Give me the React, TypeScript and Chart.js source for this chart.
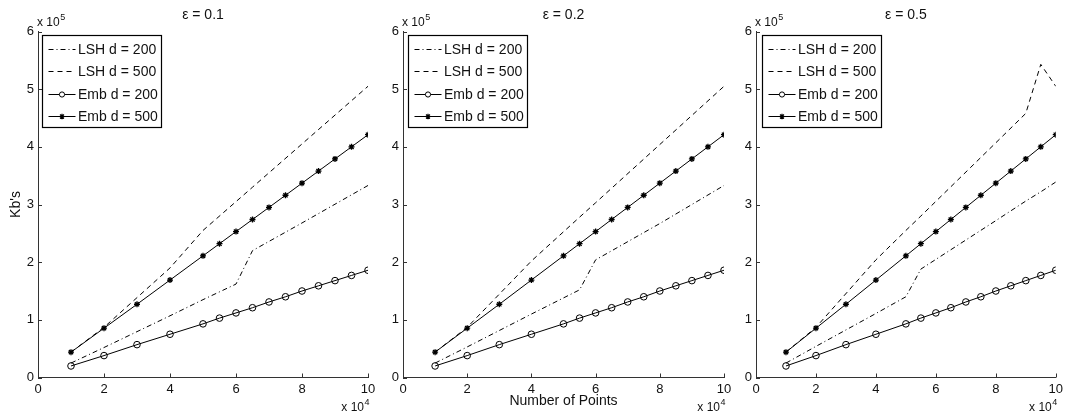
import React, { useEffect, useRef } from "react";
import { Chart, registerables } from "chart.js";

Chart.register(...registerables);

// ---------- data (x in units of 10^4 points, y in units of 10^5 Kb) ----------
const TITLES = ["ε = 0.1", "ε = 0.2", "ε = 0.5"];
const SERIES_LABELS = ["LSH d = 200", "LSH d = 500", "Emb d = 200", "Emb d = 500"];
const X_TICKS = [0, 2, 4, 6, 8, 10];
const Y_TICKS = [0, 1, 2, 3, 4, 5, 6];

const EMB_X = [1, 2, 3, 4, 5, 5.5, 6, 6.5, 7, 7.5, 8, 8.5, 9, 9.5, 10];
const EMB_200 = [0.2, 0.38, 0.57, 0.75, 0.93, 1.03, 1.12, 1.21, 1.31, 1.4, 1.5, 1.59, 1.68, 1.77, 1.86];
const EMB_500 = [0.44, 0.855, 1.27, 1.69, 2.11, 2.32, 2.53, 2.74, 2.95, 3.16, 3.37, 3.58, 3.79, 4.0, 4.21];

const LSH_X_01 = [1, 2, 4, 5, 6, 6.5, 8, 10];
const LSH200_01 = [0.25, 0.52, 1.07, 1.35, 1.62, 2.2, 2.68, 3.33];
const LSH500_01 = [0.44, 0.87, 1.9, 2.55, 3.05, 3.3, 4.05, 5.05];

const LSH_X_02 = [1, 2, 4, 5.5, 6, 8, 10];
const LSH200_02 = [0.25, 0.53, 1.1, 1.52, 2.04, 2.67, 3.33];
const LSH500_02 = [0.44, 0.87, 2.02, 2.78, 3.03, 4.04, 5.05];

const LSH_X_05 = [1, 2, 4, 5, 5.5, 8, 9, 9.5, 10];
const LSH200_05 = [0.25, 0.54, 1.11, 1.4, 1.88, 2.72, 3.06, 3.22, 3.39];
const LSH500_05 = [0.44, 0.87, 2.04, 2.55, 2.8, 4.07, 4.58, 5.43, 5.05];

const LSH_X = [LSH_X_01, LSH_X_02, LSH_X_05];
const LSH200 = [LSH200_01, LSH200_02, LSH200_05];
const LSH500 = [LSH500_01, LSH500_02, LSH500_05];

// ---------- layout / style ----------
const W = 1067;
const H = 414;
const TOP = 31.5;
const BOTTOM = 377.5;
const PANEL_LEFT = [38, 403, 756];
const PANEL_RIGHT = [368, 724, 1057];
const LEGEND_OFFSET = [3.5, 5, 6];
const Y_AXIS_W = 30;
const X_AXIS_H = 30;
const FONT = "'Liberation Sans', Arial, Helvetica, sans-serif";
const INK = "#111";
const AXIS = "#333";
const DASH_DOT = [5, 3, 1, 3];
const DASHED = [5, 4];

function pts(xs: number[], ys: number[]) {
  return xs.map((x, i) => ({ x, y: ys[i] }));
}

function drawStar(ctx: CanvasRenderingContext2D, x: number, y: number, r: number) {
  ctx.beginPath();
  ctx.moveTo(x - r, y);
  ctx.lineTo(x + r, y);
  ctx.moveTo(x, y - r);
  ctx.lineTo(x, y + r);
  const d = r * Math.SQRT1_2;
  ctx.moveTo(x - d, y - d);
  ctx.lineTo(x + d, y + d);
  ctx.moveTo(x - d, y + d);
  ctx.lineTo(x + d, y - d);
  ctx.stroke();
}

function drawPow(ctx: CanvasRenderingContext2D, base: string, exp: string, x: number, y: number, align: "left" | "right") {
  ctx.save();
  ctx.fillStyle = INK;
  ctx.textBaseline = "middle";
  ctx.font = `12px ${FONT}`;
  const bw = ctx.measureText(base).width;
  ctx.font = `9px ${FONT}`;
  const ew = ctx.measureText(exp).width;
  const start = align === "left" ? x : x - bw - ew - 0.5;
  ctx.textAlign = "left";
  ctx.font = `12px ${FONT}`;
  ctx.fillText(base, start, y);
  ctx.font = `9px ${FONT}`;
  ctx.fillText(exp, start + bw + 0.5, y - 5);
  ctx.restore();
}

const decorPlugin = {
  id: "decor",
  afterDraw(chart: any, _args: any, opts: any) {
    const ctx: CanvasRenderingContext2D = chart.ctx;
    const area = chart.chartArea;
    const xs = chart.scales.x;
    const ys = chart.scales.y;
    ctx.save();
    // inward tick marks
    ctx.strokeStyle = AXIS;
    ctx.lineWidth = 1;
    ctx.beginPath();
    X_TICKS.forEach((v) => {
      const px = Math.round(xs.getPixelForValue(v)) + 0.5;
      ctx.moveTo(px, area.bottom);
      ctx.lineTo(px, area.bottom - 4);
    });
    Y_TICKS.forEach((v) => {
      const py = Math.round(ys.getPixelForValue(v)) + 0.5;
      ctx.moveTo(area.left, py);
      ctx.lineTo(area.left + 4, py);
    });
    ctx.stroke();

    // title
    ctx.fillStyle = INK;
    ctx.font = `14px ${FONT}`;
    ctx.textAlign = "center";
    ctx.textBaseline = "middle";
    ctx.fillText(opts.title, (area.left + area.right) / 2, 15);

    // exponent labels
    drawPow(ctx, "x 10", "5", area.left - 1, 23, "left");
    drawPow(ctx, "x 10", "4", area.right + 1.5, 408, "right");

    // axis titles
    if (opts.yTitle) {
      ctx.save();
      ctx.translate(16.5, (area.top + area.bottom) / 2);
      ctx.rotate(-Math.PI / 2);
      ctx.font = `14px ${FONT}`;
      ctx.textAlign = "center";
      ctx.textBaseline = "middle";
      ctx.fillStyle = INK;
      ctx.fillText(opts.yTitle, 0, 0);
      ctx.restore();
    }
    if (opts.xTitle) {
      ctx.font = `14px ${FONT}`;
      ctx.textAlign = "center";
      ctx.textBaseline = "middle";
      ctx.fillText(opts.xTitle, (area.left + area.right) / 2, 401.5);
    }

    // legend
    const lx = Math.round(area.left + opts.legendOffset) + 0.5;
    const ly = 35.5;
    const lw = 119;
    const lh = 92;
    ctx.fillStyle = "#fff";
    ctx.fillRect(lx, ly, lw, lh);
    ctx.strokeStyle = "#000";
    ctx.lineWidth = 1.2;
    ctx.setLineDash([]);
    ctx.strokeRect(lx, ly, lw, lh);
    const rows = [13.5, 35.5, 58, 80];
    chart.data.datasets.forEach((ds: any, i: number) => {
      const y = Math.round(ly + rows[i]) + 0.5;
      ctx.strokeStyle = "#000";
      ctx.lineWidth = 1;
      ctx.setLineDash(ds.borderDash || []);
      ctx.beginPath();
      ctx.moveTo(lx + 6, y);
      ctx.lineTo(lx + 33, y);
      ctx.stroke();
      ctx.setLineDash([]);
      if (ds.pointStyle === "circle") {
        ctx.fillStyle = "#fff";
        ctx.beginPath();
        ctx.arc(lx + 19.5, y, 2.6, 0, Math.PI * 2);
        ctx.fill();
        ctx.stroke();
      } else if (ds.pointStyle === "star") {
        ctx.lineWidth = 1.2;
        drawStar(ctx, lx + 19.5, y, 2.8);
      }
      ctx.fillStyle = INK;
      ctx.font = `14px ${FONT}`;
      ctx.textAlign = "left";
      ctx.textBaseline = "middle";
      ctx.fillText(ds.label, lx + 35.5, y + 0.5);
    });
    ctx.restore();
  },
};

function makeConfig(i: number): any {
  const L = PANEL_LEFT[i];
  const R = PANEL_RIGHT[i];
  const tickFont = { family: FONT, size: 13 };
  return {
    type: "line",
    data: {
      datasets: [
        {
          label: SERIES_LABELS[0],
          data: pts(LSH_X[i], LSH200[i]),
          borderColor: "#000",
          borderWidth: 1,
          borderDash: DASH_DOT,
          pointRadius: 0,
          fill: false,
          tension: 0,
        },
        {
          label: SERIES_LABELS[1],
          data: pts(LSH_X[i], LSH500[i]),
          borderColor: "#000",
          borderWidth: 1,
          borderDash: DASHED,
          pointRadius: 0,
          fill: false,
          tension: 0,
        },
        {
          label: SERIES_LABELS[2],
          data: pts(EMB_X, EMB_200),
          borderColor: "#000",
          borderWidth: 1,
          pointStyle: "circle",
          pointRadius: 3.3,
          pointBorderWidth: 1,
          pointBorderColor: "#000",
          pointBackgroundColor: "rgba(0,0,0,0)",
          fill: false,
          tension: 0,
        },
        {
          label: SERIES_LABELS[3],
          data: pts(EMB_X, EMB_500),
          borderColor: "#000",
          borderWidth: 1,
          pointStyle: "star",
          pointRadius: 3,
          pointBorderWidth: 1.3,
          pointBorderColor: "#000",
          pointBackgroundColor: "#000",
          fill: false,
          tension: 0,
        },
      ],
    },
    options: {
      animation: false,
      responsive: false,
      maintainAspectRatio: false,
      devicePixelRatio: 1,
      events: [],
      layout: {
        padding: {
          left: L - Y_AXIS_W,
          right: W - R,
          top: TOP,
          bottom: H - BOTTOM - X_AXIS_H,
        },
      },
      plugins: {
        legend: { display: false },
        title: { display: false },
        tooltip: { enabled: false },
        decor: {
          title: TITLES[i],
          yTitle: i === 0 ? "Kb's" : "",
          xTitle: i === 1 ? "Number of Points" : "",
          legendOffset: LEGEND_OFFSET[i],
        },
      },
      scales: {
        x: {
          type: "linear",
          min: X_TICKS[0],
          max: X_TICKS[X_TICKS.length - 1],
          grid: { display: false, drawTicks: false },
          border: { display: true, color: AXIS, width: 1 },
          ticks: { stepSize: 2, padding: 4, font: tickFont, color: INK, maxRotation: 0, autoSkip: false },
          afterFit: (s: any) => {
            s.height = X_AXIS_H;
          },
        },
        y: {
          type: "linear",
          min: Y_TICKS[0],
          max: Y_TICKS[Y_TICKS.length - 1],
          grid: { display: false, drawTicks: false },
          border: { display: true, color: AXIS, width: 1 },
          ticks: { stepSize: 1, padding: 4, font: tickFont, color: INK, autoSkip: false },
          afterFit: (s: any) => {
            s.width = Y_AXIS_W;
          },
        },
      },
    },
    plugins: [decorPlugin],
  };
}

export default function App() {
  const r0 = useRef<HTMLCanvasElement | null>(null);
  const r1 = useRef<HTMLCanvasElement | null>(null);
  const r2 = useRef<HTMLCanvasElement | null>(null);
  const refs = [r0, r1, r2];

  useEffect(() => {
    const charts = refs.map((r, i) => new Chart(r.current as HTMLCanvasElement, makeConfig(i)));
    return () => charts.forEach((c) => c.destroy());
  }, []);

  return (
    <div style={{ position: "fixed", left: 0, top: 0, width: W, height: H, background: "#fff" }}>
      {refs.map((r, i) => (
        <canvas
          key={i}
          ref={r}
          width={W}
          height={H}
          style={{ position: "absolute", left: 0, top: 0, width: W, height: H }}
        />
      ))}
    </div>
  );
}
